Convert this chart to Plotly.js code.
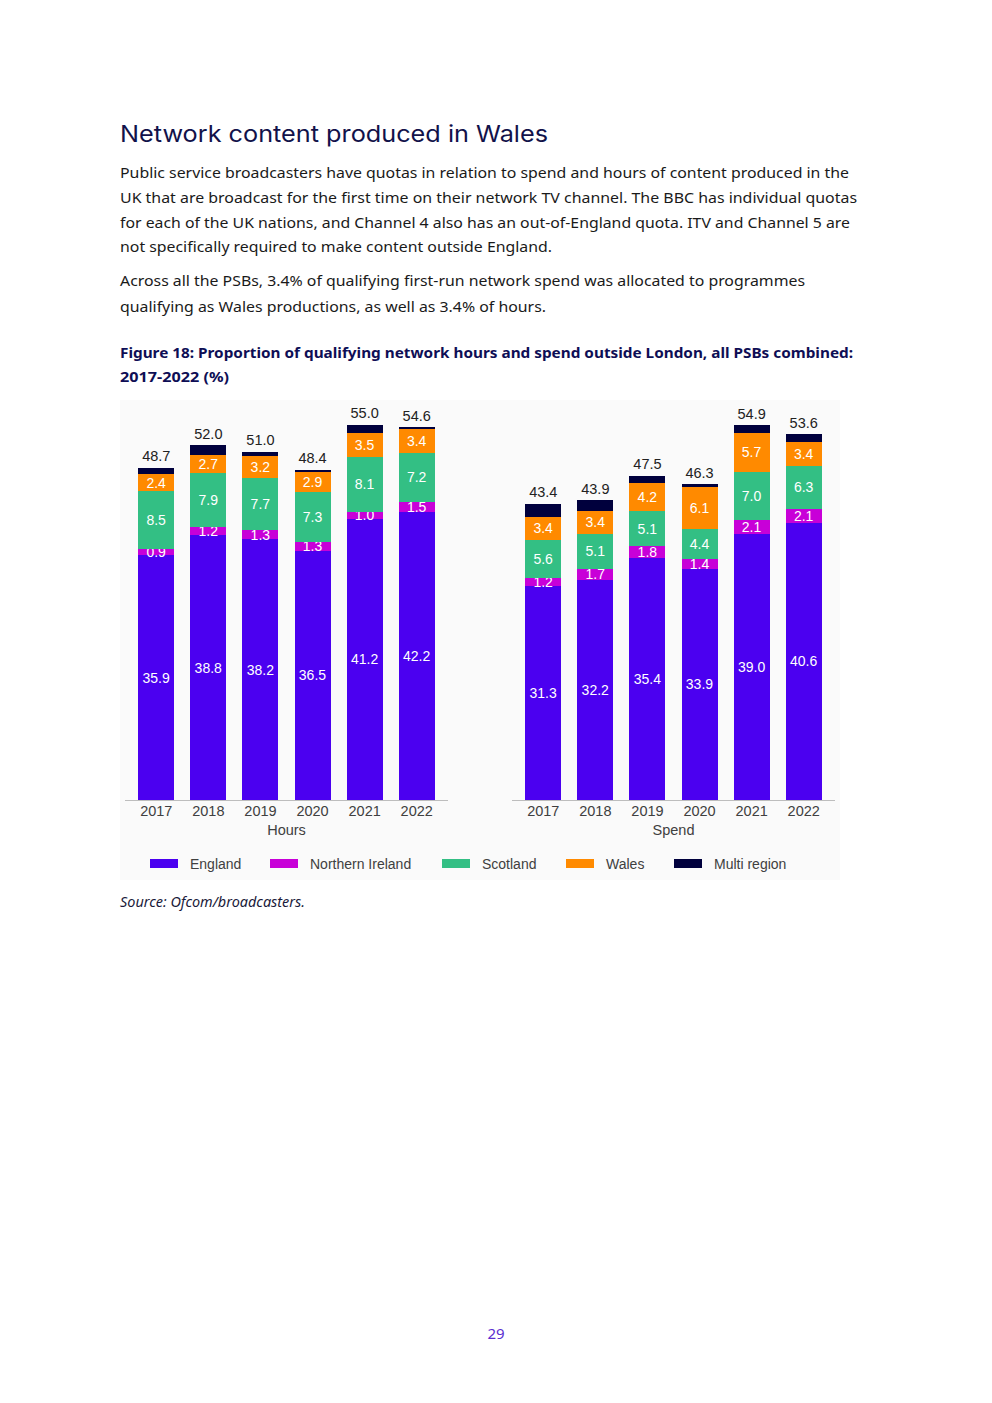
<!DOCTYPE html>
<html>
<head>
<meta charset="utf-8">
<script src="https://cdn.plot.ly/plotly-3.0.1.min.js"></script>
<style>
  html, body { margin: 0; padding: 0; background: #ffffff; }
  #page { position: relative; width: 992px; height: 1403px; background: #ffffff; overflow: hidden; }
  #textlayer { position: absolute; left: 0; top: 0; }
  #chart { position: absolute; left: 120px; top: 400px; width: 720px; height: 480px; }
</style>
</head>
<body>
<div id="page">
<svg id="textlayer" width="992" height="1403" xmlns="http://www.w3.org/2000/svg">
  <text x="120" y="142" textLength="428" lengthAdjust="spacingAndGlyphs" font-family="Inter, 'Noto Sans', sans-serif" font-size="23" fill="#12124a">Network content produced in Wales</text>
  <g font-family="'Noto Sans', 'Open Sans', sans-serif" font-size="14.5" fill="#1a1a1a">
    <text x="120" y="178" textLength="729" lengthAdjust="spacingAndGlyphs">Public service broadcasters have quotas in relation to spend and hours of content produced in the</text>
    <text x="120" y="203" textLength="737" lengthAdjust="spacingAndGlyphs">UK that are broadcast for the first time on their network TV channel. The BBC has individual quotas</text>
    <text x="120" y="228" textLength="730" lengthAdjust="spacingAndGlyphs">for each of the UK nations, and Channel 4 also has an out-of-England quota. ITV and Channel 5 are</text>
    <text x="120" y="252" textLength="432" lengthAdjust="spacingAndGlyphs">not specifically required to make content outside England.</text>
    <text x="120" y="286" textLength="685" lengthAdjust="spacingAndGlyphs">Across all the PSBs, 3.4% of qualifying first-run network spend was allocated to programmes</text>
    <text x="120" y="312" textLength="426" lengthAdjust="spacingAndGlyphs">qualifying as Wales productions, as well as 3.4% of hours.</text>
  </g>
  <g font-family="'Noto Sans', 'Open Sans', sans-serif" font-size="14.5" font-weight="bold" fill="#0e0e55">
    <text x="120" y="358" textLength="733" lengthAdjust="spacingAndGlyphs">Figure 18: Proportion of qualifying network hours and spend outside London, all PSBs combined:</text>
    <text x="120" y="382" textLength="109" lengthAdjust="spacingAndGlyphs">2017-2022 (%)</text>
  </g>
  <text x="120" y="907" textLength="185" lengthAdjust="spacingAndGlyphs" font-family="'Noto Sans', sans-serif" font-size="13.5" font-style="italic" fill="#1a1a3a">Source: Ofcom/broadcasters.</text>
  <text x="496" y="1339" text-anchor="middle" font-family="'Noto Sans', sans-serif" font-size="15" fill="#5a2fd0">29</text>
</svg>
<div id="chart"></div>
</div>
<script>
// ---------- DATA ----------
const years = ["2017", "2018", "2019", "2020", "2021", "2022"];
const seriesNames = ["England", "Northern Ireland", "Scotland", "Wales", "Multi region"];

const hoursEngland  = [35.9, 38.8, 38.2, 36.5, 41.2, 42.2];
const hoursNI       = [0.9, 1.2, 1.3, 1.3, 1.0, 1.5];
const hoursScotland = [8.5, 7.9, 7.7, 7.3, 8.1, 7.2];
const hoursWales    = [2.4, 2.7, 3.2, 2.9, 3.5, 3.4];
const hoursMulti    = [1.0, 1.4, 0.6, 0.4, 1.2, 0.3];
const hoursTotal    = [48.7, 52.0, 51.0, 48.4, 55.0, 54.6];

const spendEngland  = [31.3, 32.2, 35.4, 33.9, 39.0, 40.6];
const spendNI       = [1.2, 1.7, 1.8, 1.4, 2.1, 2.1];
const spendScotland = [5.6, 5.1, 5.1, 4.4, 7.0, 6.3];
const spendWales    = [3.4, 3.4, 4.2, 6.1, 5.7, 3.4];
const spendMulti    = [1.9, 1.5, 1.0, 0.5, 1.1, 1.2];
const spendTotal    = [43.4, 43.9, 47.5, 46.3, 54.9, 53.6];

const panelTitles = ["Hours", "Spend"];

// ---------- STYLE ----------
const colors = ["#4b00f0", "#c800d8", "#33bf84", "#ff8a00", "#00003d"];
const labelled = [true, true, true, true, false];
const fontFam = "'Liberation Sans', Arial, sans-serif";

const hoursSeries = [hoursEngland, hoursNI, hoursScotland, hoursWales, hoursMulti];
const spendSeries = [spendEngland, spendNI, spendScotland, spendWales, spendMulti];

const traces = [];
function addPanel(series, totals, xa, ya) {
  series.forEach((vals, i) => {
    traces.push({
      type: "bar",
      name: seriesNames[i],
      x: years,
      y: vals,
      xaxis: xa, yaxis: ya,
      marker: { color: colors[i], line: { width: 0 } },
      text: labelled[i] ? vals.map(v => v.toFixed(1)) : null,
      textposition: labelled[i] ? "inside" : "none",
      insidetextanchor: "middle",
      constraintext: "none",
      textangle: 0,
      textfont: { color: "#ffffff", size: 14, family: fontFam },
      cliponaxis: false,
      hoverinfo: "skip",
      showlegend: false
    });
  });
  traces.push({
    type: "scatter",
    mode: "markers+text",
    x: years,
    y: totals,
    xaxis: xa, yaxis: ya,
    marker: { size: 3, color: "rgba(0,0,0,0)" },
    text: totals.map(v => v.toFixed(1)),
    textposition: "top center",
    textfont: { color: "#222222", size: 14.5, family: fontFam },
    cliponaxis: false,
    hoverinfo: "skip",
    showlegend: false
  });
}
addPanel(hoursSeries, hoursTotal, "x", "y");
addPanel(spendSeries, spendTotal, "x2", "y2");

// Layout geometry (pixels within the 720x480 chart div)
const W = 720, H = 480, mT = 11, mB = 80;
const plotH = H - mT - mB;
function px2fx(px) { return (px - 120) / W; }
function py2fy(py) { return (400 + H - mB - py) / plotH; }

const xCommon = {
  type: "category",
  range: [-0.6, 5.6],
  showgrid: false,
  zeroline: false,
  showline: true,
  linecolor: "#bdbdbd",
  linewidth: 1,
  ticks: "",
  ticklabelstandoff: -2,
  tickfont: { size: 14.5, color: "#404040", family: fontFam },
  fixedrange: true
};
const yCommon = {
  range: [0, 57],
  visible: false,
  showgrid: false,
  zeroline: false,
  fixedrange: true
};

const shapes = [], annotations = [];
const legendX = [150, 270, 442, 566, 674];
seriesNames.forEach((nm, i) => {
  shapes.push({
    type: "rect", xref: "paper", yref: "paper",
    x0: px2fx(legendX[i]), x1: px2fx(legendX[i] + 28),
    y0: py2fy(868), y1: py2fy(859),
    fillcolor: colors[i], line: { width: 0 }
  });
  annotations.push({
    xref: "paper", yref: "paper",
    x: px2fx(legendX[i] + 38), y: py2fy(864),
    xanchor: "left", yanchor: "middle",
    text: nm, showarrow: false,
    font: { size: 14, color: "#404040", family: fontFam }
  });
});

const layout = {
  width: W, height: H,
  margin: { l: 0, r: 0, t: mT, b: mB, pad: 0 },
  paper_bgcolor: "#fafafa",
  plot_bgcolor: "rgba(0,0,0,0)",
  barmode: "stack",
  bargap: 0.31,
  showlegend: false,
  xaxis: Object.assign({}, xCommon, {
    domain: [px2fx(125), px2fx(448)], anchor: "y",
    title: { text: panelTitles[0], standoff: 6, font: { size: 14.5, color: "#404040", family: fontFam } }
  }),
  xaxis2: Object.assign({}, xCommon, {
    domain: [px2fx(512), px2fx(835)], anchor: "y2",
    title: { text: panelTitles[1], standoff: 6, font: { size: 14.5, color: "#404040", family: fontFam } }
  }),
  yaxis: Object.assign({}, yCommon, { anchor: "x" }),
  yaxis2: Object.assign({}, yCommon, { anchor: "x2" }),
  shapes: shapes,
  annotations: annotations
};

Plotly.newPlot("chart", traces, layout, { displayModeBar: false, staticPlot: true });
</script>
</body>
</html>
